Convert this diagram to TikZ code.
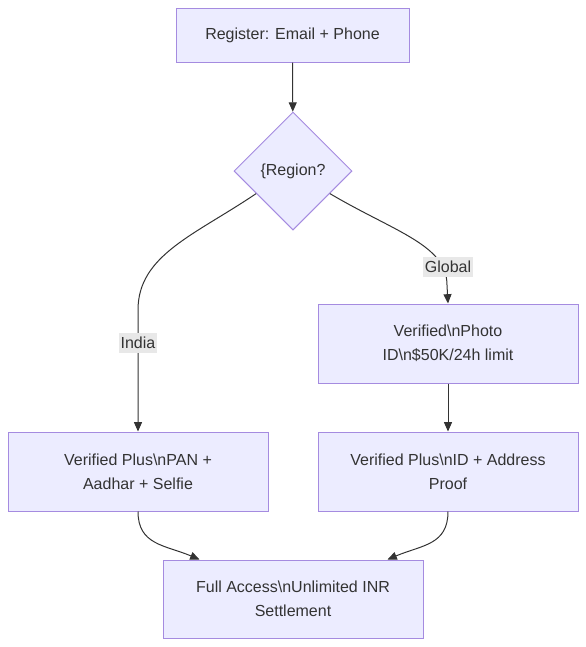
\documentclass[tikz,border=0pt]{standalone}
\usepackage{fontspec}
\setmainfont{Liberation Sans}
\usetikzlibrary{shapes.geometric,arrows.meta,calc}
\definecolor{nodefill}{HTML}{ECECFF}
\definecolor{nodeline}{HTML}{A58BE0}
\definecolor{txt}{HTML}{333333}
\definecolor{lblbg}{HTML}{E8E8E8}
\begin{document}
\begin{tikzpicture}[x=0.75pt,y=-0.75pt,
  box/.style={draw=nodeline,fill=nodefill,line width=0.75pt,inner sep=0pt,align=center,text=txt,font=\fontsize{12pt}{18pt}\selectfont},
  decision/.style={box,shape=diamond,minimum width=88.5pt,minimum height=88.5pt},
  arr/.style={draw=txt,line width=0.75pt,-{Triangle[length=7pt,width=6pt]}},
  lbl/.style={fill=lblbg,text=txt,inner xsep=1.5pt,inner ysep=3pt,font=\fontsize{12pt}{14pt}\selectfont}]
\useasboundingbox (0,0) rectangle (586,647);
\node[box,minimum width=174.75pt,minimum height=40.5pt] (reg) at (292.5,35) {Register: Email + Phone};
\node[decision] (d) at (293,171) {\{Region?};
\node[box,minimum width=195pt,minimum height=59.25pt] (g) at (448,343.5) {Verified\textbackslash nPhoto\\ID\textbackslash n\$50K/24h limit};
\node[box,minimum width=195pt,minimum height=59.25pt] (i) at (138,471.5) {Verified Plus\textbackslash nPAN +\\Aadhar + Selfie};
\node[box,minimum width=195pt,minimum height=59.25pt] (id) at (448,471.5) {Verified Plus\textbackslash nID + Address\\Proof};
\node[box,minimum width=195pt,minimum height=58.5pt] (f) at (293,599) {Full Access\textbackslash nUnlimited INR\\Settlement};
\coordinate (dl) at ($(d.west)!0.38!(d.south)$);
\coordinate (dr) at ($(d.east)!0.38!(d.south)$);
\coordinate (fl) at ($(f.north west)+(37,0)$);
\coordinate (fr) at ($(f.north east)+(-36,0)$);
\draw[arr] (reg) -- (d);
\draw[arr] (dl) .. controls (195,235) and (138,255) .. (138,310) -- (i.north);
\draw[arr] (dr) .. controls (395,232) and (447,245) .. (447,285) -- (g.north);
\node[lbl] (li) at (138,343) {India};
\node[lbl] (lg) at (448,267) {Global};
\draw[arr] (g) -- (id);
\draw[arr] (i.south) .. controls (138,545) and (165,545) .. (fl);
\draw[arr] (id.south) .. controls (448,545) and (422,545) .. (fr);
\end{tikzpicture}
\end{document}
